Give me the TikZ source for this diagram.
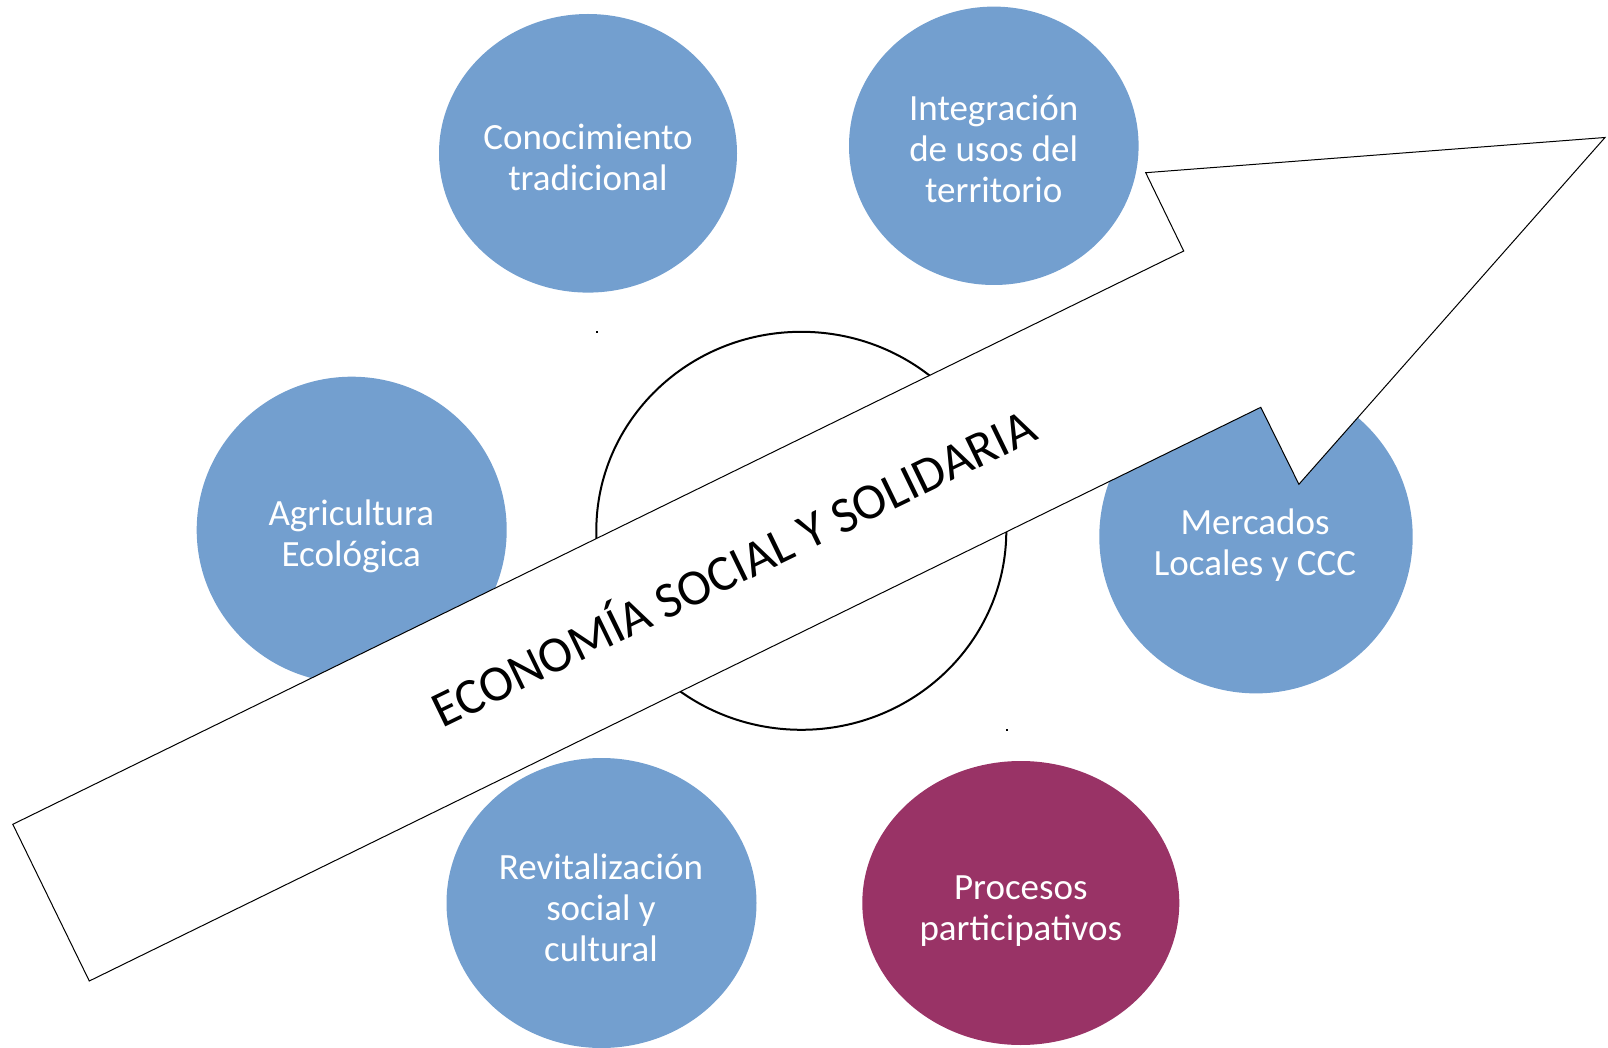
\documentclass[tikz,border=0pt]{standalone}
\usepackage{fontspec}
\setmainfont{Carlito}
\usepackage{xcolor}
\usetikzlibrary{shapes.geometric}
\definecolor{azul}{RGB}{115,159,207}
\definecolor{morado}{RGB}{153,51,102}
\tikzset{
  blob/.style={ellipse, fill=azul, inner sep=0pt},
  lbl/.style={text=white, align=center, anchor=base, inner sep=0pt, font=\fontsize{18.5}{20.5}\selectfont},
}

\begin{document}
\begin{tikzpicture}[x=0.5pt, y=-0.5pt]
    \useasboundingbox (0,0) rectangle (1608,1048);
    \node[blob, minimum width=149pt, minimum height=139.3pt] (CT) at (588,153.3) {};
    \node[blob, minimum width=144.8pt, minimum height=139.2pt] (IT) at (993.8,145.8) {};
    \node[blob, minimum width=155pt, minimum height=153.3pt] (AE) at (351.7,530) {};
    \node[blob, minimum width=156.7pt, minimum height=156.7pt] (ML) at (1256,536.7) {};
    \node[blob, minimum width=155pt, minimum height=145pt] (RS) at (601.5,903) {};
    \node[blob, fill=morado, minimum width=158.5pt, minimum height=142pt] (PP) at (1020.8,903) {}; % the only purple one
    \node[ellipse, draw, line width=1pt, fill=white, inner sep=0pt, minimum width=205pt, minimum height=199pt] (C) at (801.3,530.8) {};
    \fill (596,331) rectangle (598,333);
    \fill (1006,729) rectangle (1008,731);

    % labels sit on the baseline of their last line
    \node[lbl] (CTt) at (588,190.7) {Conocimiento\\tradicional};
    \node[lbl] (ITt) at (993.7,202.7) {Integración\\de usos del\\territorio};
    \node[lbl] (AEt) at (351.3,566.7) {Agricultura\\Ecológica};
    \node[lbl] (MLt) at (1255,575) {Mercados\\Locales y CCC};
    \node[lbl] (RSt) at (601,961) {Revitalización\\social y\\cultural};
    \node[lbl] (PPt) at (1020.8,940) {Procesos\\participativos};

    % big arrow on top of everything
    \draw[line width=0.5pt, fill=white] (12.8,824.3) -- (1183.7,251) -- (1145.7,172.7) -- (1605,137.5)
        -- (1298.9,484.3) -- (1260.8,407.3) -- (89.3,981) -- cycle;
    \node[anchor=base, rotate=25.9, inner sep=0pt, font=\fontsize{25.4}{30}\selectfont] (ESS) at (741,583.7) {ECONOMÍA SOCIAL Y SOLIDARIA};
\end{tikzpicture}
\end{document}
